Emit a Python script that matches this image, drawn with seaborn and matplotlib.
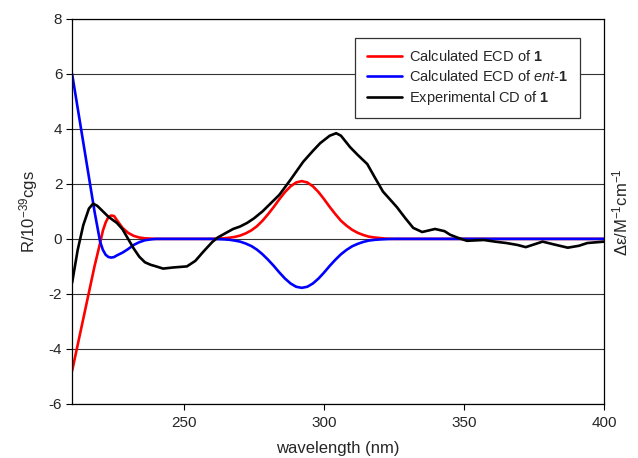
import matplotlib
matplotlib.use("Agg")
import matplotlib.pyplot as plt
import seaborn as sns
import pandas as pd

# calculated ECD of 1 (red) and of ent-1 (blue), same wavelengths
calc_wl = [210, 212, 214, 216, 218, 220, 221, 222, 223, 224, 225, 226, 228, 230, 232, 234, 236, 238, 240,
           260, 262, 264, 266, 268, 270, 272, 274, 276, 278, 280, 282, 284, 286, 288, 290, 292,
           294, 296, 298, 300, 302, 304, 306, 308, 310, 312, 314, 316, 318, 320, 322, 324, 330, 400]
calc_r = [-4.8, -3.85, -2.9, -1.95, -1.0, -0.15, 0.3, 0.6, 0.8, 0.85, 0.83, 0.68, 0.4, 0.22, 0.11, 0.05, 0.02, 0.01, 0.0,
          0.0, 0.01, 0.02, 0.04, 0.07, 0.12, 0.2, 0.31, 0.46, 0.66, 0.9, 1.16, 1.44, 1.7, 1.91, 2.05, 2.1,
          2.05, 1.91, 1.7, 1.44, 1.16, 0.9, 0.66, 0.48, 0.33, 0.22, 0.14, 0.08, 0.05, 0.03, 0.01, 0.0, 0.0, 0.0]
ent_r = [6.0, 4.75, 3.5, 2.25, 1.0, -0.1, -0.4, -0.58, -0.66, -0.68, -0.66, -0.6, -0.5, -0.37, -0.22, -0.12, -0.05, -0.02, 0.0,
         0.0, -0.01, -0.017, -0.03, -0.06, -0.1, -0.17, -0.26, -0.39, -0.56, -0.76, -0.98, -1.22, -1.44, -1.62, -1.74, -1.78,
         -1.74, -1.62, -1.44, -1.22, -0.98, -0.76, -0.56, -0.4, -0.27, -0.18, -0.11, -0.06, -0.035, -0.02, -0.01, 0.0, 0.0, 0.0]
# experimental CD of 1 (black)
exp_wl = [210, 212, 214, 216, 217.5, 219, 221, 223, 226, 228, 230, 232, 234, 236, 238, 240, 242.5, 246, 251,
          254, 257, 260, 262, 265, 267.5, 270, 272.5, 275, 278, 281, 284, 288, 292.5, 296, 298.6, 302, 304.3,
          306, 309.3, 312, 315.4, 318, 321, 324, 326, 329, 331.8, 335, 339.6, 343, 345, 348, 351, 357, 361,
          365, 369, 372, 375, 378, 382, 387, 391, 394, 400]
exp_de = [-1.6, -0.4, 0.5, 1.1, 1.28, 1.2, 1.0, 0.8, 0.58, 0.35, 0.0, -0.35, -0.65, -0.85, -0.94, -1.0, -1.08, -1.04, -1.0,
          -0.8, -0.45, -0.12, 0.05, 0.22, 0.36, 0.45, 0.58, 0.75, 1.0, 1.3, 1.6, 2.15, 2.8, 3.2, 3.48, 3.75, 3.84,
          3.75, 3.33, 3.05, 2.72, 2.25, 1.72, 1.38, 1.15, 0.75, 0.4, 0.25, 0.36, 0.28, 0.15, 0.03, -0.07, -0.04, -0.1,
          -0.15, -0.22, -0.3, -0.2, -0.1, -0.2, -0.32, -0.25, -0.15, -0.1]

labels = ["Calculated ECD of $\\mathbf{1}$",
          "Calculated ECD of $\\mathit{ent}$-$\\mathbf{1}$",
          "Experimental CD of $\\mathbf{1}$"]

sns.set_theme(style="white")
plt.rcParams['font.family'] = ['Liberation Sans', 'DejaVu Sans']
plt.rcParams['mathtext.fontset'] = 'custom'
plt.rcParams['mathtext.rm'] = 'Liberation Sans'
plt.rcParams['mathtext.it'] = 'Liberation Sans:italic'
plt.rcParams['mathtext.bf'] = 'Liberation Sans:bold'
plt.rcParams['axes.unicode_minus'] = False
plt.rcParams['lines.solid_joinstyle'] = 'round'

calc = pd.DataFrame({"wl": calc_wl, "r": calc_r, "ent": ent_r})
expt = pd.DataFrame({"wl": exp_wl, "de": exp_de})

fig = plt.figure(figsize=(6.38, 4.58), dpi=100)
ax = fig.add_axes([0.113, 0.118, 0.834, 0.841])

for y in range(-6, 9, 2):
    ax.axhline(y, color="#333333", lw=0.8, zorder=0)

sns.lineplot(data=calc, x="wl", y="r", color="red", lw=1.9, label=labels[0], ax=ax, sort=False)
sns.lineplot(data=calc, x="wl", y="ent", color="blue", lw=1.9, label=labels[1], ax=ax, sort=False)
sns.lineplot(data=expt, x="wl", y="de", color="black", lw=1.9, label=labels[2], ax=ax, sort=False)

ax.set_xlim(210, 400)
ax.set_ylim(-6, 8)
ax.set_xticks([250, 300, 350, 400])
ax.set_yticks(range(-6, 9, 2))
ax.tick_params(axis="both", direction="out", length=4, width=0.8, color="black",
               labelsize=11, bottom=True, left=True, pad=3)
ax.tick_params(axis="x", pad=5)
for s in ax.spines.values():
    s.set_color("black")
    s.set_linewidth(0.9)

ax.set_xlabel("wavelength (nm)", fontsize=12)
ax.set_ylabel("R/10$^{-39}$cgs", fontsize=12)
ax.yaxis.set_label_coords(-0.06, 0.5)
ax.xaxis.set_label_coords(0.5, -0.095)
fig.text(0.972, 0.538, "Δε/M$^{-1}$cm$^{-1}$", rotation=90, ha="center", va="center", fontsize=12)

leg = ax.legend(loc="upper right", bbox_to_anchor=(0.955, 0.951), borderaxespad=0,
                fontsize=10.5, frameon=True, fancybox=False, framealpha=1,
                handlelength=2.4, handletextpad=0.5, borderpad=0.8, labelspacing=0.32)
leg.get_frame().set_edgecolor("#333333")
leg.get_frame().set_linewidth(0.9)

plt.savefig("out.png", dpi=100)
